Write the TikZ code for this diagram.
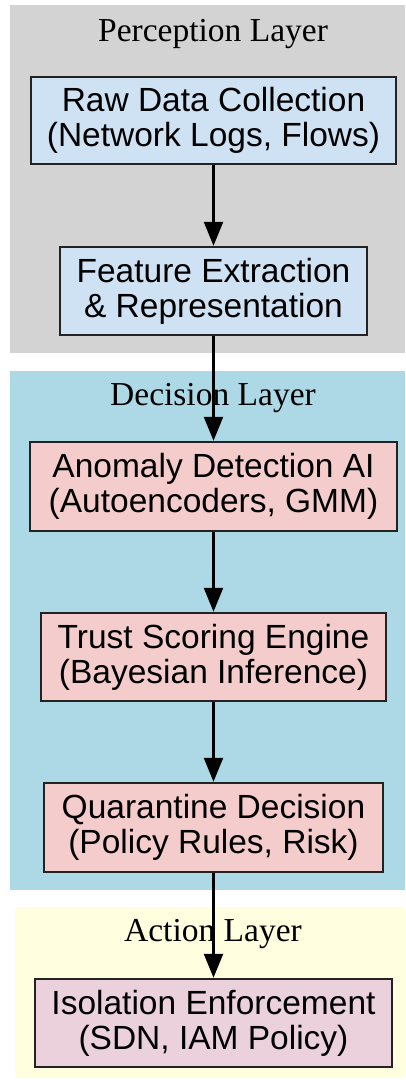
\documentclass[tikz,border=0pt]{standalone}
\usepackage{fontspec}
\setmainfont{Liberation Serif}
\newfontfamily\nodefont{Liberation Sans}
\usetikzlibrary{arrows.meta}
\definecolor{percbg}{HTML}{D3D3D3}
\definecolor{decbg}{HTML}{ADD8E6}
\definecolor{actbg}{HTML}{FFFFE0}
\definecolor{percfill}{HTML}{CFE2F3}
\definecolor{decfill}{HTML}{F4CCCC}
\definecolor{actfill}{HTML}{EAD1DC}
\definecolor{edgegray}{HTML}{222222}
\tikzset{
  layerlabel/.style={font=\fontsize{33.5}{36}\selectfont, anchor=center},
  stage/.style={draw=edgegray, line width=2.5pt, inner sep=0pt, align=center,
    font=\nodefont\fontsize{33.5}{35}\selectfont},
  flow/.style={line width=2.5pt, -{Triangle[length=24pt,width=19pt]}}
}
\begin{document}
\begin{tikzpicture}[x=1pt,y=-1pt]
\useasboundingbox (0,0) rectangle (405,1080);
% layer backgrounds
\fill[percbg] (10,5) rectangle (405,353);
\fill[decbg] (10,371) rectangle (405,890);
\fill[actbg] (15,907) rectangle (405,1078);
\node[layerlabel] (lp) at (213,34) {Perception Layer};
\node[layerlabel] (ld) at (213,398) {Decision Layer};
\node[layerlabel] (la) at (213,934) {Action Layer};
% processing stages
\node[stage, fill=percfill, minimum width=365pt, minimum height=87pt] (raw) at (213.5,120.5)
  {Raw Data Collection\\(Network Logs, Flows)};
\node[stage, fill=percfill, minimum width=307pt, minimum height=88pt] (feat) at (213.5,291)
  {Feature Extraction\\\& Representation};
\node[stage, fill=decfill, minimum width=367pt, minimum height=89pt] (anom) at (213.5,486.5)
  {Anomaly Detection AI\\(Autoencoders, GMM)};
\node[stage, fill=decfill, minimum width=345pt, minimum height=88pt] (trust) at (213.5,657)
  {Trust Scoring Engine\\(Bayesian Inference)};
\node[stage, fill=decfill, minimum width=339pt, minimum height=89pt] (quar) at (213.5,827.5)
  {Quarantine Decision\\(Policy Rules, Risk)};
\node[stage, fill=actfill, minimum width=357pt, minimum height=88pt] (iso) at (213.5,1023)
  {Isolation Enforcement\\(SDN, IAM Policy)};
% pipeline
\draw[flow] (raw) -- (feat);
\draw[flow] (feat) -- (anom);
\draw[flow] (anom) -- (trust);
\draw[flow] (trust) -- (quar);
\draw[flow] (quar) -- (iso);
\end{tikzpicture}
\end{document}
